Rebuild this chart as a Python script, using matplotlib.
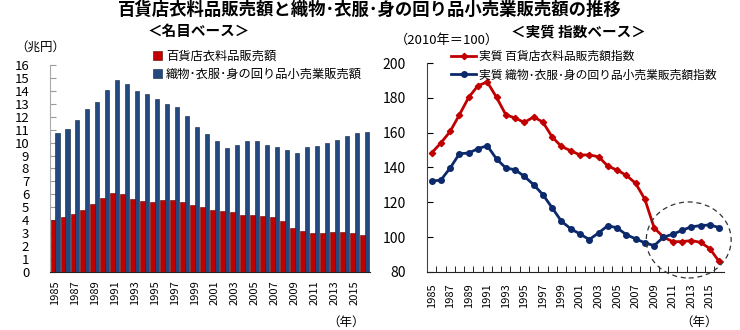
import matplotlib
matplotlib.use("Agg")
import matplotlib.pyplot as plt
from matplotlib.patches import Ellipse
import numpy as np

plt.rcParams['font.family'] = ['Noto Sans CJK JP', 'DejaVu Sans']

years = list(range(1985, 2017))

# 名目ベース (兆円)
dept_store_apparel = [4.00, 4.23, 4.46, 4.79, 5.25, 5.74, 6.08, 6.00, 5.62, 5.49,
                      5.41, 5.54, 5.56, 5.41, 5.18, 5.02, 4.82, 4.74, 4.61, 4.40,
                      4.38, 4.33, 4.23, 3.94, 3.38, 3.17, 3.04, 3.04, 3.07, 3.12,
                      3.04, 2.88]
textile_retail = [10.72, 11.05, 11.75, 12.60, 13.16, 14.06, 14.84, 14.53, 14.01, 13.76,
                  13.35, 12.98, 12.73, 12.03, 11.23, 10.64, 10.12, 9.56, 9.81, 10.12,
                  10.12, 9.81, 9.63, 9.45, 9.20, 9.63, 9.74, 9.97, 10.20, 10.49,
                  10.72, 10.82]

# 実質 指数ベース (2010年=100)
dept_store_index = [148.3, 154.1, 160.7, 170.3, 180.3, 187.0, 189.1, 180.3, 170.3, 168.4,
                    165.9, 169.0, 166.1, 157.5, 152.1, 149.6, 147.2, 147.2, 146.2, 140.8,
                    138.5, 135.5, 130.9, 121.7, 105.3, 100.0, 97.4, 97.4, 98.0, 97.0,
                    93.4, 86.0]
textile_index = [132.1, 132.8, 139.7, 147.9, 148.3, 150.8, 152.5, 144.9, 139.7, 138.7,
                 134.9, 130.1, 124.4, 116.8, 109.1, 104.8, 101.8, 98.6, 102.4, 106.6,
                 105.3, 101.4, 99.0, 96.7, 95.1, 100.0, 101.6, 103.9, 105.9, 106.6,
                 107.0, 105.5]

label_dept = "百貨店衣料品販売額"
label_textile = "織物･衣服･身の回り品小売業販売額"
label_dept_idx = "実質 百貨店衣料品販売額指数"
label_textile_idx = "実質 織物･衣服･身の回り品小売業販売額指数"

RED = "#C00000"
BLUE = "#24497F"
NAVY = "#0C2A6B"

fig = plt.figure(figsize=(7.4, 3.3), dpi=100)

fig.text(0.5, 0.97, "百貨店衣料品販売額と織物･衣服･身の回り品小売業販売額の推移",
         ha='center', va='center', fontsize=12.5, fontweight='bold')
fig.text(0.268, 0.905, "＜名目ベース＞", ha='center', va='center',
         fontsize=10.5, fontweight='bold')
fig.text(0.782, 0.905, "＜実質 指数ベース＞", ha='center', va='center',
         fontsize=10.5, fontweight='bold')

x = np.arange(len(years))
tick_labels = [str(y) if (y - 1985) % 2 == 0 else "" for y in years]

# ---- 名目ベース: bar chart ----
ax1 = fig.add_axes([0.0676, 0.176, 0.432, 0.627])
w = 0.46
ax1.bar(x - 0.22, dept_store_apparel, width=w, color=RED, edgecolor="#5a0000",
        linewidth=0.4, label=label_dept, zorder=2)
ax1.bar(x + 0.22, textile_retail, width=w, color=BLUE, edgecolor="#0d1f3a",
        linewidth=0.4, label=label_textile, zorder=2)
ax1.set_xlim(-0.5, len(years) - 0.5)
ax1.set_ylim(0, 16)
ax1.set_yticks(range(0, 17))
ax1.tick_params(axis='y', direction='in', length=4, labelsize=9.5, pad=15,
                color='#999999')
ax1.set_xticks(x)
ax1.set_xticklabels(tick_labels, rotation=90, fontsize=8)
ax1.tick_params(axis='x', direction='in', length=3, pad=6, color='#999999')
for s in ['top', 'right']:
    ax1.spines[s].set_visible(False)
ax1.spines['left'].set_color('#aaaaaa')
ax1.spines['bottom'].set_color('#222222')
fig.text(0.02, 0.858, "（兆円）", ha='left', va='center', fontsize=9)
fig.text(0.467, 0.022, "（年）", ha='center', va='center', fontsize=9)
ax1.legend(loc='upper left', bbox_to_anchor=(0.198, 0.868),
           bbox_transform=fig.transFigure, frameon=False, fontsize=8.8,
           handlelength=0.8, handleheight=0.8, handletextpad=0.3,
           labelspacing=0.4, borderpad=0)

# ---- 実質 指数ベース: line chart ----
ax2 = fig.add_axes([0.577, 0.176, 0.401, 0.633])
ax2.plot(x, dept_store_index, color=RED, lw=2, marker='D', ms=3.2,
         label=label_dept_idx, zorder=3)
ax2.plot(x, textile_index, color=NAVY, lw=2, marker='o', ms=4,
         label=label_textile_idx, zorder=3)
ax2.set_xlim(-0.5, len(years) - 0.5)
ax2.set_ylim(80, 200)
ax2.set_yticks(range(80, 201, 20))
ax2.tick_params(axis='y', direction='in', length=4, labelsize=10, pad=15)
ax2.set_xticks(x - 0.5, minor=True)
ax2.set_xticks(x)
ax2.set_xticklabels(tick_labels, rotation=90, fontsize=8)
ax2.tick_params(axis='x', which='major', length=0, pad=8)
ax2.tick_params(axis='x', which='minor', direction='in', length=4)
for s in ['top', 'right']:
    ax2.spines[s].set_visible(False)
ax2.spines['left'].set_color('#444444')
ax2.spines['bottom'].set_color('#222222')
fig.text(0.533, 0.877, "（2010年＝100）", ha='left', va='center', fontsize=9.5)
fig.text(0.945, 0.022, "（年）", ha='center', va='center', fontsize=9)
ax2.legend(loc='upper left', bbox_to_anchor=(0.602, 0.866),
           bbox_transform=fig.transFigure, frameon=False, fontsize=8.5,
           handlelength=2.1, handletextpad=0.2, labelspacing=0.45, borderpad=0)

ax2.add_patch(Ellipse((0.882, 0.153), 0.286, 0.364, transform=ax2.transAxes,
                      fill=False, linestyle=(0, (4, 3)), lw=0.9,
                      edgecolor='#333333', clip_on=False, zorder=4))

fig.savefig("out.png", dpi=100)
